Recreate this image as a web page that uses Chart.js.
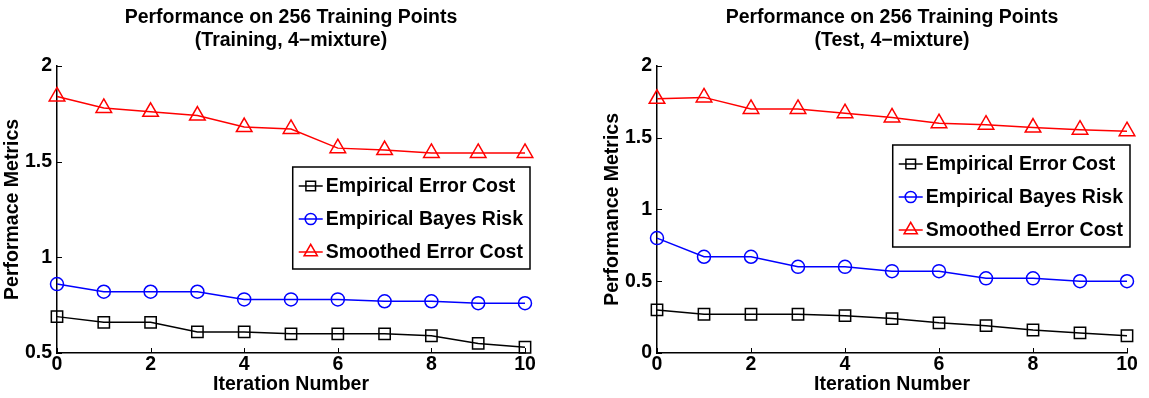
<!DOCTYPE html>
<html><head><meta charset="utf-8">
<script src="https://cdn.jsdelivr.net/npm/chart.js@4.4.0/dist/chart.umd.min.js"></script>
<style>
html,body{margin:0;padding:0;background:#fff;}
#wrap{position:relative;width:1149px;height:398px;overflow:hidden;}
#c1{position:absolute;left:0;top:0;}
#c2{position:absolute;left:600px;top:0;}
</style></head><body>
<div id="wrap"><canvas id="c1" width="575" height="398"></canvas><canvas id="c2" width="549" height="398"></canvas></div>
<script>
const iterations = [0,1,2,3,4,5,6,7,8,9,10];
const seriesNames = ['Empirical Error Cost','Empirical Bayes Risk','Smoothed Error Cost'];
const trainErrorCost = [0.69,0.66,0.66,0.61,0.61,0.60,0.60,0.60,0.59,0.55,0.53];
const trainBayesRisk = [0.86,0.82,0.82,0.82,0.78,0.78,0.78,0.77,0.77,0.76,0.76];
const trainSmoothed  = [1.84,1.78,1.76,1.74,1.68,1.67,1.57,1.56,1.545,1.545,1.545];
const testErrorCost  = [0.30,0.27,0.27,0.27,0.26,0.24,0.21,0.19,0.16,0.14,0.12];
const testBayesRisk  = [0.80,0.67,0.67,0.60,0.60,0.57,0.57,0.52,0.52,0.50,0.50];
const testSmoothed   = [1.77,1.78,1.70,1.70,1.67,1.64,1.60,1.59,1.57,1.555,1.545];
const xTicks = [0,2,4,6,8,10];
const trainYTicks = [0.5,1,1.5,2];
const testYTicks = [0,0.5,1,1.5,2];
const trainTitle = ['Performance on 256 Training Points','(Training, 4\u2212mixture)'];
const testTitle = ['Performance on 256 Training Points','(Test, 4\u2212mixture)'];
const trainYLabel = 'Performace Metrics';
const testYLabel = 'Performance Metrics';
const xLabel = 'Iteration Number';

const FONT = '"Liberation Sans", Arial, Helvetica, sans-serif';
const FS = 19.5;
const styles = [
  {color:'#000000', pointStyle:'rect', radius:8},
  {color:'#0000ff', pointStyle:'circle', radius:6.5},
  {color:'#ff0000', pointStyle:'triangle', radius:9}
];

function toPoints(vals){ return iterations.map((x,i)=>({x:x,y:vals[i]})); }

function drawMarker(ctx, st, x, y){
  ctx.save();
  ctx.strokeStyle = st.color; ctx.lineWidth = 1.5; ctx.fillStyle = 'rgba(0,0,0,0)';
  if (Chart.helpers && Chart.helpers.drawPoint){
    Chart.helpers.drawPoint(ctx, {pointStyle: st.pointStyle, radius: st.radius, rotation: 0, borderWidth: 1.5}, x, y);
  } else {
    ctx.beginPath();
    const r = st.radius;
    if (st.pointStyle==='circle'){ ctx.arc(x,y,r,0,Math.PI*2); }
    else if (st.pointStyle==='rect'){ const s=r*Math.SQRT1_2; ctx.rect(x-s,y-s,2*s,2*s); }
    else { ctx.moveTo(x, y-r); ctx.lineTo(x+r*0.866, y+r/2); ctx.lineTo(x-r*0.866, y+r/2); ctx.closePath(); }
    ctx.stroke();
  }
  ctx.restore();
}

const innerTicks = {
  id:'innerTicks',
  afterDatasetsDraw(chart){
    const ctx = chart.ctx, xs = chart.scales.x, ys = chart.scales.y, a = chart.chartArea;
    ctx.save(); ctx.strokeStyle='#000'; ctx.lineWidth=1;
    ctx.beginPath();
    xs.ticks.forEach(t=>{ const px = Math.round(xs.getPixelForValue(t.value))+0.5; ctx.moveTo(px,a.bottom); ctx.lineTo(px,a.bottom-5); });
    ys.ticks.forEach(t=>{ const py = Math.round(ys.getPixelForValue(t.value))+0.5; ctx.moveTo(a.left,py); ctx.lineTo(a.left+5,py); });
    ctx.stroke(); ctx.restore();
  }
};

const boxLegend = {
  id:'boxLegend',
  afterDraw(chart, args, opts){
    const ctx = chart.ctx, a = chart.chartArea;
    ctx.save();
    ctx.font = 'bold ' + FS + 'px ' + FONT;
    const labels = chart.data.datasets.map(d=>d.label);
    const tw = Math.max(...labels.map(l=>ctx.measureText(l).width));
    const w = 6 + 24 + 3 + tw + 7, h = 102;
    const right = a.right + opts.dx, top = opts.top;
    const left = right - w;
    ctx.fillStyle = '#fff'; ctx.fillRect(left, top, w, h);
    ctx.strokeStyle = '#000'; ctx.lineWidth = 1.5; ctx.strokeRect(left, top, w, h);
    chart.data.datasets.forEach((d,i)=>{
      const y = top + 19 + i*33;
      const st = styles[i];
      ctx.strokeStyle = st.color; ctx.lineWidth = 1.5;
      ctx.beginPath(); ctx.moveTo(left+6, y); ctx.lineTo(left+30, y); ctx.stroke();
      drawMarker(ctx, {color:st.color, pointStyle:st.pointStyle, radius: st.radius*0.85}, left+18, y);
      ctx.fillStyle = '#000'; ctx.textBaseline = 'middle'; ctx.textAlign = 'left';
      ctx.fillText(d.label, left+33, y+1);
    });
    ctx.restore();
  }
};

function makeChart(id, title, yLabel, series, yMin, yTicks, padRight, legendOpts){
  const datasets = series.map((vals,i)=>({
    label: seriesNames[i],
    data: toPoints(vals),
    borderColor: styles[i].color,
    backgroundColor: 'rgba(0,0,0,0)',
    borderWidth: 1.5,
    pointStyle: styles[i].pointStyle,
    pointRadius: styles[i].radius,
    pointBorderWidth: 1.5,
    pointBorderColor: styles[i].color,
    pointBackgroundColor: 'rgba(0,0,0,0)',
    tension: 0,
    clip: false
  }));
  return new Chart(document.getElementById(id), {
    type:'line',
    data:{datasets},
    options:{
      responsive:false, animation:false, devicePixelRatio:1,
      layout:{padding:{left:0,right:padRight,top:0,bottom:0}},
      plugins:{
        legend:{display:false}, tooltip:{enabled:false},
        title:{display:true, fullSize:false, text:title, color:'#000', font:{family:FONT, size:FS, weight:'bold', lineHeight:1.2}, padding:{top:6,bottom:13}},
        boxLegend: legendOpts
      },
      scales:{
        x:{type:'linear', min:0, max:10,
          afterBuildTicks(s){ s.ticks = xTicks.map(v=>({value:v})); },
          afterFit(s){ s.height = 45; },
          grid:{display:false, drawTicks:false},
          border:{display:true, color:'#000', width:1.5},
          ticks:{color:'#000', padding:0, maxRotation:0, font:{family:FONT, size:FS, weight:'bold'}, callback:v=>String(v)},
          title:{display:true, text:xLabel, color:'#000', padding:{top:0,bottom:2}, font:{family:FONT, size:FS, weight:'bold', lineHeight:1.2}}
        },
        y:{type:'linear', min:yMin, max:2,
          afterBuildTicks(s){ s.ticks = yTicks.map(v=>({value:v})); },
          afterFit(s){ s.width = 57; },
          grid:{display:false, drawTicks:false},
          border:{display:true, color:'#000', width:1.5},
          ticks:{color:'#000', padding:5, font:{family:FONT, size:FS, weight:'bold'}, callback:v=>String(v)},
          title:{display:true, text:yLabel, color:'#000', padding:{top:1,bottom:0}, font:{family:FONT, size:FS, weight:'bold', lineHeight:1.2}}
        }
      }
    },
    plugins:[innerTicks, boxLegend]
  });
}

makeChart('c1', trainTitle, trainYLabel, [trainErrorCost, trainBayesRisk, trainSmoothed], 0.5, trainYTicks, 50, {dx:5, top:167});
makeChart('c2', testTitle, testYLabel, [testErrorCost, testBayesRisk, testSmoothed], 0, testYTicks, 22, {dx:3, top:145});
</script>
</body></html>
